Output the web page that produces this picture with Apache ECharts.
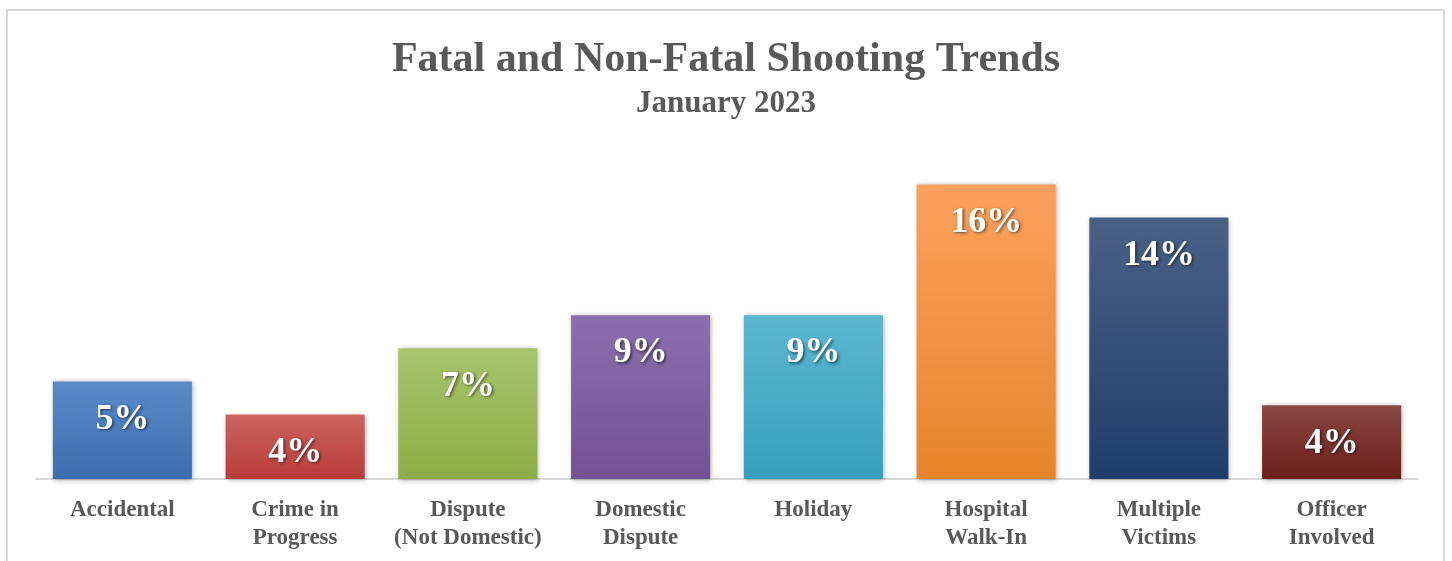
<!DOCTYPE html>
<html>
<head>
<meta charset="utf-8">
<script src="https://cdn.jsdelivr.net/npm/echarts@6/dist/echarts.min.js"></script>
<style>html,body{margin:0;padding:0;background:#fff}#c{width:1452px;height:561px}</style>
</head>
<body>
<div id="c"></div>
<script>
const categories = ['Accidental', 'Crime in\nProgress', 'Dispute\n(Not Domestic)', 'Domestic\nDispute', 'Holiday', 'Hospital\nWalk-In', 'Multiple\nVictims', 'Officer\nInvolved'];
const values = [5.3, 3.5, 7.1, 8.9, 8.9, 16.0, 14.2, 4.0];
const topColors = ['#5b8bc9', '#cc6461', '#a6c46c', '#8c6fae', '#5bb7d1', '#fba15d', '#4a6185', '#8a4845'];
const bottomColors = ['#3b6db0', '#b83b38', '#8dad47', '#725292', '#379fbc', '#e8842b', '#1f3e6b', '#6b1d19'];

const chart = echarts.init(document.getElementById('c'));
const serif = '"Liberation Serif", "Times New Roman", serif';
chart.setOption({
  animation: false,
  title: [{
    text: 'Fatal and Non-Fatal Shooting Trends',
    left: 'center', top: 34,
    textStyle: {fontFamily: serif, fontWeight: 'bold', fontSize: 42, color: '#595959'}
  }, {
    text: 'January 2023',
    left: 'center', top: 83,
    textStyle: {fontFamily: serif, fontWeight: 'bold', fontSize: 31, color: '#595959'}
  }],
  graphic: [{
    type: 'rect', shape: {x: 7, y: 10, width: 1437, height: 560},
    style: {fill: 'none', stroke: '#d9d9d9', lineWidth: 2}, silent: true
  }],
  grid: {left: 36, right: 34, top: 166, bottom: 82},
  xAxis: {
    type: 'category', data: categories,
    axisLine: {lineStyle: {color: '#d9d9d9', width: 2}},
    axisTick: {show: false},
    axisLabel: {fontFamily: serif, fontWeight: 'bold', fontSize: 23, lineHeight: 28, color: '#595959', margin: 17, interval: 0}
  },
  yAxis: {type: 'value', min: 0, max: 17, show: false, splitLine: {show: false}},
  series: [{
    type: 'bar',
    barWidth: '80.5%',
    data: values.map((v, i) => ({
      value: v,
      itemStyle: {
        color: new echarts.graphic.LinearGradient(0, 0, 0, 1, [
          {offset: 0, color: topColors[i]}, {offset: 1, color: bottomColors[i]}
        ]),
        shadowColor: 'rgba(0,0,0,0.35)', shadowBlur: 5, shadowOffsetX: 1, shadowOffsetY: 1
      }
    })),
    label: {
      show: true, position: 'insideTop', distance: 20,
      formatter: p => Math.round(p.value) + '%',
      fontFamily: serif, fontWeight: 'bold', fontSize: 36, color: '#fff',
      textShadowColor: 'rgba(0,0,0,0.55)', textShadowBlur: 3, textShadowOffsetX: 1.5, textShadowOffsetY: 1.5
    }
  }]
});
</script>
</body>
</html>
